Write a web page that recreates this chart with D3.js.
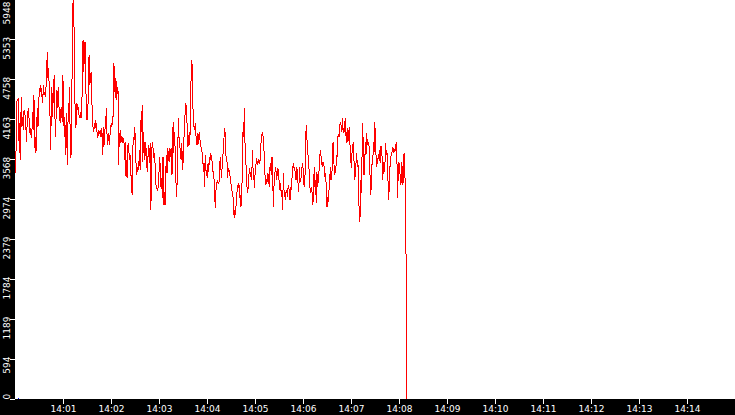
<!DOCTYPE html>
<html>
<head>
<meta charset="utf-8">
<script src="https://cdn.jsdelivr.net/npm/d3@7"></script>
<style>
body { margin: 0; background: #fff; }
svg { display: block; }
.axis text { fill: #fff; font-family: "DejaVu Sans", sans-serif; font-size: 9px; }
.axis line { stroke: #fff; }
.axis .domain { display: none; }
</style>
</head>
<body>
<div id="chart"></div>
<script>
// data (one sample roughly every 0.84 s)
var sampleStart = "14:00:01",
	sampleEnd = "14:08:10";

var rateValues = [
	3358,4400,4449,4449,4474,3656,4102,3556,4499,4052,4201,4003,4276,4300,4201,4052,3829,4152,4276,4325,
	4102,3953,4028,3879,3978,4276,4003,4524,3730,3904,3656,4028,4325,4052,4350,4623,4573,4672,4598,4499,
	4400,4672,4524,4573,4499,4648,4945,5168,4747,4920,4449,4176,3705,4648,4201,4548,4400,4821,4300,3904,
	4226,4598,4325,4648,4375,4276,4102,4300,4350,4127,4821,4499,3904,4201,3631,4251,3804,3482,4400,4201,
	4648,3804,3581,3904,5243,5888,5948,5268,4424,4028,4102,4400,4300,4350,4226,4176,4276,4176,4201,4796,
	5342,4871,5094,5317,4871,4152,4201,4152,4697,5119,4672,4747,4871,4474,4201,4028,3978,4102,4028,4152,
	4028,3953,3879,4003,3978,3953,3904,4028,4003,3631,4052,3755,3854,4077,4176,4325,3780,3928,3953,3780,
	3904,4028,4102,4052,4201,
	4201,4995,4722,4474,4772,4449,4598,4648,3482,3953,3804,4003,3829,3904,3829,3854,3804,3556,3829,3308,
	3556,3284,3804,3730,3556,3631,3333,3333,3036,3705,3904,3854,4052,3804,3457,3333,3457,3408,3457,3705,
	3408,4152,3978,4375,3532,3978,3780,3556,3829,3705,3457,3383,3705,3780,3507,3804,2812,3606,3829,3755,
	3581,3656,3556,3209,3160,3135,3110,3160,3358,3606,3432,3160,3284,2986,3606,2887,3085,2887,3308,3631,
	3358,3730,3631,3532,3730,3606,3730,3333,3383,4127,3656,3978,3730,3333,3011,3209,3755,4176,3829,3780,
	3631,3556,3804,3408,3532,3804,4152,4251,4400,4300,4028,3755,3829,3978,3780,4598,4796,5050,4648,4127,
	4052,4003,4102,3928,3780,3953,3780,3904,3978,3854,3780,3730,3680,3606,3383,3507,3160,3631,3408,3358,
	3284,3507,3383,3606,3556,3656,3581,3532,3383,
	3383,3259,2986,2837,3160,3209,3259,3209,3209,3259,3606,3457,3284,3457,3631,3680,3953,4028,3804,3556,
	3606,3284,3432,3383,3408,3284,3209,3160,3060,3036,2837,2688,2812,2738,2961,3060,3184,3160,3209,2986,
	3036,2862,3110,3308,3978,3904,4325,3804,3656,3308,3160,3060,3184,3358,3432,3308,3383,3259,3705,3408,
	3333,3135,3358,3457,3581,3482,3532,3556,3507,3532,3581,3854,3928,3978,3904,3730,3556,3259,3184,3259,
	3234,3358,3284,3160,3432,3507,3333,3606,3556,2862,3160,3259,3457,3408,3259,3358,3432,3333,3209,3110,
	3209,3011,3110,2812,3358,3110,3060,2961,3085,3110,3011,3135,3184,3060,2961,3160,3110,3308,3457,3482,
	3432,3457,3308,3259,3457,3358,3184,3085,3457,3234,3284,3308,3482,3507,3284,3160,3209,3705,4077,3904,
	3705,3606,3482,3209,3110,3060,3160,3036,2887,
	3135,3457,3160,3259,2912,3383,3160,3259,3383,3556,3705,3631,3482,3532,3457,3532,3408,3308,3358,3110,
	2862,3011,2937,3110,3234,3457,3259,3308,3507,3829,3606,3333,3383,3358,3631,3606,3904,3928,3904,4077,
	4102,4077,3978,4176,3953,4028,3978,4176,3953,3804,4028,3829,3854,4052,3804,3680,3432,3656,3705,3829,
	3606,3259,3333,3482,3656,3457,3556,2986,2812,2639,3259,3060,3556,4102,3755,3333,3432,3829,3631,3953,
	3780,3829,3804,3730,3333,3036,3209,3507,3482,3829,3680,4127,3904,3606,3457,3556,3581,3606,3705,3507,
	3755,3755,3581,3259,3532,3383,3408,3804,3631,3705,3532,3160,2961,3457,3457,3606,3656,3680,3755,3656,
	3705,3680,3730,3829,3581,2986,3383,3532,3383,3333,3184,3532,3432,3184,3631,3656,3308,2986,1400,0
];

var blueTimes = ["14:00:04"],
	blueValues = [0];

var yMax = 5948;
var axisStart = "14:00:00",
	axisEnd = "14:15:00";

//margins
var svgWidth = 735,
	svgHeight = 415;

var margin = { t: 0, r: 0, b: 16, l: 15 };

var plotBottom = svgHeight - margin.b; // 399

var parseTime = d3.timeParse("%H:%M:%S");
var t0 = parseTime(sampleStart),
	t1 = parseTime(sampleEnd);
var step = (t1 - t0) / (rateValues.length - 1);

var data = rateValues.map((v, i) => ({ t: new Date(+t0 + i * step), v: v }));

var xScale = d3.scaleTime()
	.domain([parseTime(axisStart), parseTime(axisEnd)])
	.range([margin.l, svgWidth]);

var yScale = d3.scaleLinear()
	.domain([0, yMax])
	.range([plotBottom, -0.7]);

var svg = d3.select('#chart')
	.append('svg')
	.attr('width', svgWidth)
	.attr('height', svgHeight);

svg.append('rect')
	.attr('width', svgWidth)
	.attr('height', svgHeight)
	.attr('fill', '#fff');

// the series
var line = d3.line()
	.x(d => xScale(d.t))
	.y(d => yScale(d.v));

svg.append('path')
	.datum(data)
	.attr('d', line)
	.attr('fill', 'none')
	.attr('stroke', '#ff0000')
	.attr('stroke-width', 1)
	.attr('shape-rendering', 'crispEdges');

svg.selectAll('.blue')
	.data(blueTimes)
	.enter()
	.append('rect')
	.attr('x', d => Math.floor(xScale(parseTime(d))))
	.attr('y', (d, i) => yScale(blueValues[i]) - 1)
	.attr('width', 1)
	.attr('height', 1)
	.attr('fill', '#0000ff');

// black strips
svg.append('rect')
	.attr('x', 0).attr('y', 0)
	.attr('width', margin.l)
	.attr('height', svgHeight)
	.attr('fill', '#000');

svg.append('rect')
	.attr('x', 0).attr('y', plotBottom)
	.attr('width', svgWidth)
	.attr('height', margin.b)
	.attr('fill', '#000');

// y axis
var yTicks = d3.range(0, 11).map(k => k * yMax / 10);

var yAxis = svg.append('g')
	.attr('class', 'axis')
	.attr('transform', `translate(${margin.l},0)`)
	.call(d3.axisLeft(yScale)
		.tickValues(yTicks)
		.tickSize(5)
		.tickFormat(d => Math.floor(d)));

yAxis.selectAll('.tick line').attr('shape-rendering', 'crispEdges');

yAxis.selectAll('.tick text')
	.attr('x', null).attr('dy', null)
	.attr('transform', 'translate(-5,-3) rotate(-90)')
	.style('text-anchor', 'end');

// keep labels inside the strip
yAxis.selectAll('.tick').each(function(d) {
	var tx = d3.select(this).select('text');
	var len = tx.node().getComputedTextLength();
	var y = yScale(d);
	var top = y - 3, bottom = top + len;
	var shift = 0;
	if (top < 1) shift = 1 - top;
	if (bottom > plotBottom) shift = plotBottom - bottom;
	tx.attr('transform', `translate(-5,${-3 + shift}) rotate(-90)`);
});

// x axis
var xTicks = d3.range(1, 15).map(m => parseTime(`14:${String(m).padStart(2, '0')}:00`));

var xAxis = svg.append('g')
	.attr('class', 'axis')
	.attr('transform', `translate(0,${plotBottom})`)
	.call(d3.axisBottom(xScale)
		.tickValues(xTicks)
		.tickSize(5)
		.tickPadding(2)
		.tickFormat(d3.timeFormat('%H:%M')));

xAxis.selectAll('.tick line').attr('shape-rendering', 'crispEdges');
</script>
</body>
</html>
